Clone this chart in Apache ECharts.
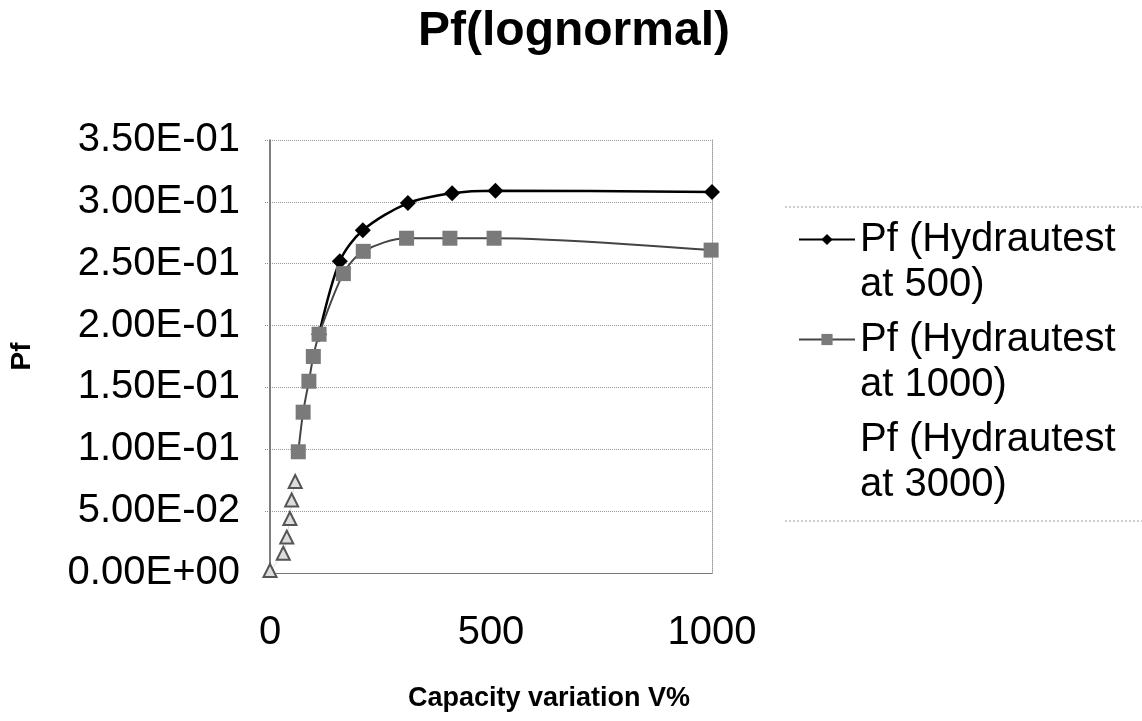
<!DOCTYPE html>
<html>
<head>
<meta charset="utf-8">
<script src="https://cdn.jsdelivr.net/npm/echarts@6/dist/echarts.min.js"></script>
<style>html,body{margin:0;padding:0;background:#fff;}#c{width:1142px;height:721px;}</style>
</head>
<body>
<div id="c"></div>
<script>
const titleText = 'Pf(lognormal)';
const xName = 'Capacity variation V%';
const yName = 'Pf';
const seriesNames = ['Pf (Hydrautest at 500)', 'Pf (Hydrautest at 1000)', 'Pf (Hydrautest at 3000)'];

const x500 = [111, 158, 210, 312, 412, 510, 1000];
const y500 = [0.193, 0.252, 0.277, 0.299, 0.307, 0.309, 0.308];

const x1000 = [64, 75, 88, 98, 111, 166, 211, 309, 407, 507, 998];
const y1000 = [0.098, 0.130, 0.155, 0.175, 0.193, 0.242, 0.260, 0.2706, 0.2706, 0.2706, 0.261];

const x3000 = [0, 30, 38, 45, 49, 57];
const y3000 = [0.002, 0.016, 0.029, 0.044, 0.059, 0.074];

const zip = (xs, ys) => xs.map((x, i) => [x, ys[i]]);

function fmtE(v) {
  if (v === 0) return '0.00E+00';
  const s = v.toExponential(2).toUpperCase();
  const m = s.match(/^(.*)E([+-])(\d+)$/);
  return m[1] + 'E' + m[2] + (m[3].length < 2 ? '0' + m[3] : m[3]);
}

const chart = echarts.init(document.getElementById('c'), null, {renderer: 'canvas'});
const font = 'Liberation Sans, Arial, sans-serif';
const legendRule = {stroke: '#999', lineWidth: 1, lineDash: [2, 2]};
chart.setOption({
  animation: false,
  backgroundColor: '#fff',
  title: {
    text: titleText, left: 569, top: 3, textAlign: 'center',
    textStyle: {fontFamily: font, fontSize: 48, fontWeight: 'bold', color: '#000'}
  },
  grid: {left: 270, right: 430, top: 140, bottom: 148},
  graphic: [
    {type: 'line', shape: {x1: 785, y1: 207, x2: 1142, y2: 207}, style: legendRule, silent: true},
    {type: 'line', shape: {x1: 785, y1: 521, x2: 1142, y2: 521}, style: legendRule, silent: true}
  ],
  legend: {
    left: 798, top: 172, orient: 'vertical',
    itemWidth: 56, itemHeight: 14, itemGap: -35,
    padding: 0,
    formatter: n => ' \n' + n.replace(' at', '\nat'),
    textStyle: {fontFamily: font, fontSize: 40, color: '#000', lineHeight: 45},
    data: [
      {name: seriesNames[0]},
      {name: seriesNames[1]},
      {name: seriesNames[2], itemStyle: {opacity: 0}, lineStyle: {opacity: 0}}
    ]
  },
  xAxis: [{
    type: 'value', min: 0, max: 1000, interval: 500,
    name: xName, nameLocation: 'middle', nameGap: 112,
    nameTextStyle: {fontFamily: font, fontSize: 27, fontWeight: 'bold', color: '#000', padding: [0, 0, 0, 116]},
    axisLine: {show: true, lineStyle: {color: '#777', width: 1}},
    axisTick: {show: false},
    axisLabel: {fontFamily: font, fontSize: 40, color: '#000', margin: 40, formatter: v => String(v)},
    splitLine: {show: false}
  }],
  yAxis: [{
    type: 'value', min: 0, max: 0.35, interval: 0.05,
    name: yName, nameLocation: 'middle', nameGap: 234, nameRotate: 90,
    nameTextStyle: {fontFamily: font, fontSize: 28, fontWeight: 'bold', color: '#000'},
    axisLine: {show: true, lineStyle: {color: '#555', width: 1.5}},
    axisTick: {show: true, length: 6, lineStyle: {color: '#888', type: 'dotted'}},
    axisLabel: {fontFamily: font, fontSize: 40, color: '#000', margin: 30, formatter: fmtE},
    splitLine: {show: true, lineStyle: {color: '#999', type: 'dotted', width: 1}}
  }, {
    type: 'value', min: 0, max: 0.35, interval: 0.05, position: 'right',
    axisLine: {show: true, lineStyle: {color: '#999', type: 'dotted', width: 1}},
    axisTick: {show: false}, axisLabel: {show: false}, splitLine: {show: false}
  }],
  series: [
    {
      name: seriesNames[0], type: 'line', smooth: 0.3, z: 3,
      data: zip(x500, y500),
      symbol: 'diamond', symbolSize: 16,
      itemStyle: {color: '#000'},
      lineStyle: {color: '#000', width: 2.5}
    },
    {
      name: seriesNames[1], type: 'line', smooth: 0.3, z: 4,
      data: zip(x1000, y1000),
      symbol: 'rect', symbolSize: 15,
      itemStyle: {color: '#7a7a7a'},
      lineStyle: {color: '#444', width: 2}
    },
    {
      name: seriesNames[2], type: 'line', smooth: 0.3, z: 2,
      data: zip(x3000, y3000),
      symbol: 'triangle', symbolSize: 13,
      itemStyle: {color: '#ddd', borderColor: '#555', borderWidth: 2},
      lineStyle: {color: '#bbb', width: 1, type: 'dotted'}
    }
  ]
});
</script>
</body>
</html>
